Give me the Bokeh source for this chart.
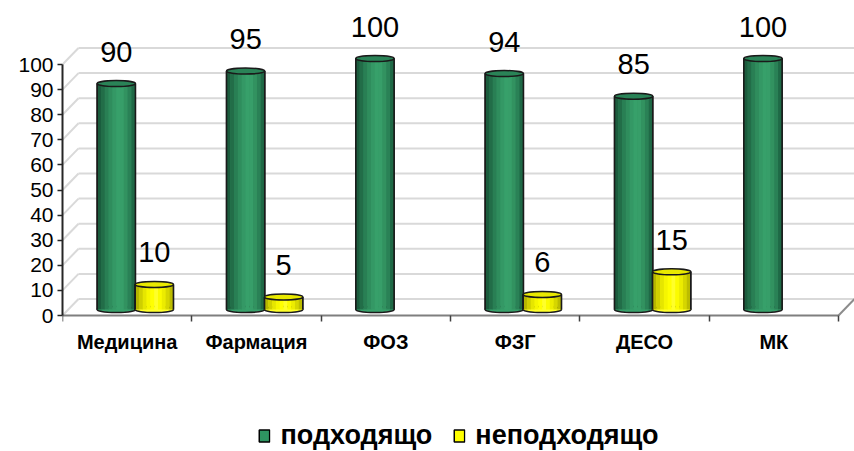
import numpy as np
from bokeh.plotting import figure
from bokeh.models import Range1d, FixedTicker, Legend, LegendItem
from bokeh.core.properties import value
from bokeh.embed import file_html
from bokeh.resources import INLINE

# ---------------- data ----------------
categories = ["Медицина", "Фармация", "ФОЗ", "ФЗГ", "ДЕСО", "МК"]
suitable = [90, 95, 100, 94, 85, 100]
unsuitable = [10, 5, 0, 6, 15, 0]
series_names = ["подходящо", "неподходящо"]
y_ticks = [0, 10, 20, 30, 40, 50, 60, 70, 80, 90, 100]

# ---------------- style / geometry ----------------
FONT = "Liberation Sans"
PX_PER_CAT = 776 / 6.0
PX_PER_UNIT = 2.51
FRAME_W = 792
X_END = FRAME_W / PX_PER_CAT
Y_END = 307 / PX_PER_UNIT           # frame top is 307 px above the zero line
Y_START = -136 / PX_PER_UNIT        # frame bottom is 136 px below it
BAR_LIFT = 6 / PX_PER_UNIT          # bars stand a little behind the front edge
BACK_DX = 16 / PX_PER_CAT           # depth of back wall
BACK_DY = 16.5 / PX_PER_UNIT
BAR_W = 0.295
OFFSETS = [-0.084, 0.21]
ELL_H = 6 / PX_PER_UNIT

green_profile = ["#1b5c3d", "#226d48", "#297f54", "#2f8d5d", "#349865",
                 "#37a06a", "#379e69", "#329260", "#2a8156", "#1f6946"]
yellow_profile = ["#b5b500", "#cfcf00", "#e6e600", "#f6f600", "#ffff00",
                  "#ffff2a", "#fbfb00", "#ecec00", "#d6d600", "#bcbc00"]
profiles = [green_profile, yellow_profile]
tops = ["#2a8357", "#e9e900"]
base_fill = ["#2e9461", "#ffff00"]

p = figure(width=854, height=451, output_backend="svg", toolbar_location=None,
           x_range=Range1d(0, X_END), y_range=Range1d(Y_START, Y_END),
           min_border_left=62, min_border_right=0, min_border_top=8,
           min_border_bottom=0)
p.extra_x_ranges = {"back": Range1d(-BACK_DX, X_END - BACK_DX)}
p.extra_y_ranges = {"back": Range1d(Y_START - BACK_DY, Y_END - BACK_DY),
                    "bars": Range1d(Y_START - BAR_LIFT, Y_END - BAR_LIFT)}
p.outline_line_color = None
p.xgrid.visible = False
p.ygrid.visible = False
p.background_fill_color = "white"

# back wall gridlines
yt = np.array(y_ticks, dtype=float)
p.segment(x0=np.zeros_like(yt), y0=yt, x1=np.full_like(yt, X_END + 1), y1=yt,
          x_range_name="back", y_range_name="back",
          line_color="#d9d9d9", line_width=2)
# side wall diagonals
p.segment(x0=np.zeros_like(yt), y0=yt, x1=np.full_like(yt, BACK_DX), y1=yt + BACK_DY,
          line_color="#d9d9d9", line_width=2)
# right floor edge
n = len(categories)
p.segment(x0=[n], y0=[0], x1=[n + BACK_DX], y1=[BACK_DY],
          line_color="#8c8c8c", line_width=2)

# cylinders
legend_renderers = []
for s, vals in enumerate([suitable, unsuitable]):
    vals = np.array(vals, dtype=float)
    idx = np.nonzero(vals > 0)[0]
    xs = idx + 0.5 + OFFSETS[s]
    vs = vals[idx]
    prof = profiles[s]
    k = len(prof)
    # body with outline (also used as legend swatch)
    body = p.vbar(x=xs, bottom=0, top=vs, width=BAR_W, y_range_name="bars",
                  fill_color=base_fill[s], line_color="black", line_width=1.5)
    legend_renderers.append(body)
    # bottom
    p.ellipse(x=xs, y=np.zeros_like(vs), width=BAR_W, height=ELL_H,
              y_range_name="bars", fill_color=prof[k // 2], line_color="#1a1a1a",
              line_width=1.5)
    # shaded body
    for j, c in enumerate(prof):
        sx = xs - BAR_W / 2 + BAR_W * (j + 0.5) / k
        p.vbar(x=sx, bottom=0, top=vs, width=BAR_W / k * 1.08, y_range_name="bars",
               fill_color=c, line_color=None)
    # sides
    p.segment(x0=xs - BAR_W / 2, y0=np.zeros_like(vs), x1=xs - BAR_W / 2, y1=vs,
              y_range_name="bars", line_color="#1a1a1a", line_width=1.5)
    p.segment(x0=xs + BAR_W / 2, y0=np.zeros_like(vs), x1=xs + BAR_W / 2, y1=vs,
              y_range_name="bars", line_color="#1a1a1a", line_width=1.5)
    # top
    p.ellipse(x=xs, y=vs, width=BAR_W, height=ELL_H, y_range_name="bars",
              fill_color=tops[s], line_color="#1a1a1a", line_width=1.5)
    # data labels
    p.text(x=xs, y=vs, text=[str(int(v)) for v in vs], y_range_name="bars",
           text_font=value(FONT), text_font_size="29px", text_align="center",
           text_baseline="middle", y_offset=-32, text_color="black")

legend = Legend(items=[LegendItem(label=series_names[s], renderers=[legend_renderers[s]])
                       for s in range(2)],
                orientation="horizontal", location="bottom_center",
                label_text_font=FONT, label_text_font_size="27px",
                label_text_font_style="bold", label_text_color="black",
                glyph_width=13, glyph_height=15, label_standoff=10, spacing=20,
                padding=0, margin=0, border_line_color=None,
                background_fill_alpha=0)
p.add_layout(legend, "center")

# y axis
ya = p.yaxis[0]
ya.ticker = FixedTicker(ticks=y_ticks)
ya.bounds = (0, 100)
ya.axis_line_color = "#262626"
ya.axis_line_width = 2
ya.major_tick_line_color = "#262626"
ya.major_tick_line_width = 1.5
ya.major_tick_out = 5
ya.major_tick_in = 0
ya.minor_tick_line_color = None
ya.major_label_standoff = 4
ya.major_label_text_font = FONT
ya.major_label_text_font_size = "21px"
ya.major_label_text_color = "black"

# x axis, pinned to the zero line inside the frame
xa = p.xaxis[0]
xa.fixed_location = 0
xa.ticker = FixedTicker(ticks=[i + 0.5 for i in range(n)],
                        minor_ticks=list(range(n + 1)))
xa.bounds = (0, n)
xa.major_label_overrides = {i + 0.5: c for i, c in enumerate(categories)}
xa.axis_line_color = "#7f7f7f"
xa.axis_line_width = 2
xa.major_tick_out = 0
xa.major_tick_in = 0
xa.major_tick_line_color = None
xa.minor_tick_out = 6
xa.minor_tick_in = 0
xa.minor_tick_line_color = "#404040"
xa.minor_tick_line_width = 1.5
xa.major_label_standoff = 9
xa.major_label_text_font = FONT
xa.major_label_text_font_size = "20px"
xa.major_label_text_font_style = "bold"
xa.major_label_text_color = "black"

open("out.html", "w").write(file_html(p, INLINE))
